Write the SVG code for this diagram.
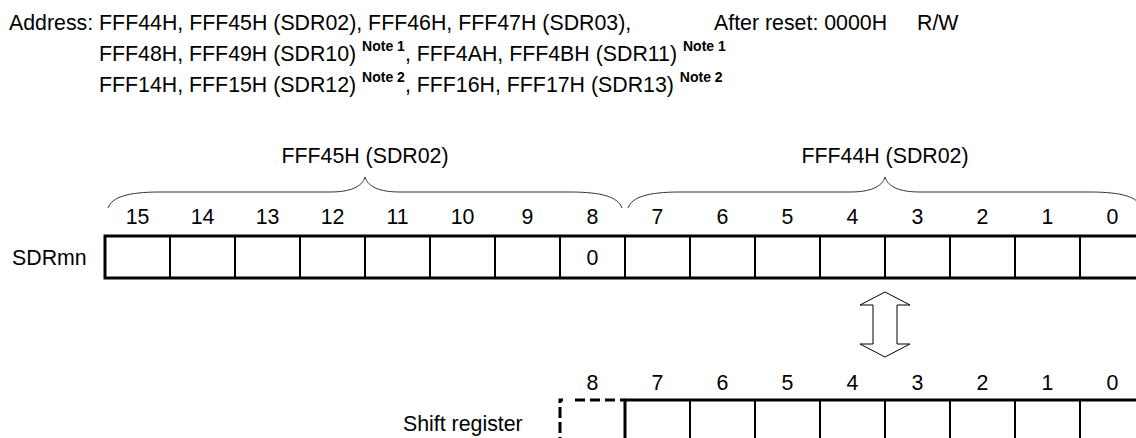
<svg xmlns="http://www.w3.org/2000/svg" width="1136" height="438" viewBox="0 0 1136 438">
<style>
text{font-family:"Liberation Sans",Arial,sans-serif;font-size:21.33px;fill:#000}
.c{text-anchor:middle}
.note{font-size:14px;font-weight:bold}
.brace{fill:none;stroke:#333;stroke-width:1}
.outer{fill:#fff;stroke:#000;stroke-width:3}
.div{stroke:#000;stroke-width:2}
.thick{fill:none;stroke:#000;stroke-width:3}
</style>
<g id="header">
<text x="9" y="30">Address: FFF44H, FFF45H (SDR02), FFF46H, FFF47H (SDR03),</text>
<text x="99" y="61">FFF48H, FFF49H (SDR10) <tspan class="note" dy="-10">Note 1</tspan><tspan dy="10">, FFF4AH, FFF4BH (SDR11) </tspan><tspan class="note" dy="-10">Note 1</tspan></text>
<text x="99" y="92">FFF14H, FFF15H (SDR12) <tspan class="note" dy="-10">Note 2</tspan><tspan dy="10">, FFF16H, FFF17H (SDR13) </tspan><tspan class="note" dy="-10">Note 2</tspan></text>
<text x="714" y="30">After reset: 0000H</text>
<text x="917" y="30">R/W</text>
</g>
<g id="braces">
<text class="c" x="365" y="163">FFF45H (SDR02)</text>
<text class="c" x="885" y="163">FFF44H (SDR02)</text>
<path class="brace" d="M108,208 C112,197 128,192 160,192 L330,192 C350,192 362,187 365,177 C368,187 380,192 400,192 L570,192 C602,192 618,197 622,208"/>
<path class="brace" d="M628,208 C632,197 648,192 680,192 L850,192 C870,192 882,187 885,177 C888,187 900,192 920,192 L1090,192 C1122,192 1138,197 1142,208"/>
</g>
<g id="sdrmn">
<text x="12" y="265">SDRmn</text>
<g class="c">
<text x="137.5" y="224">15</text><text x="202.5" y="224">14</text><text x="267.5" y="224">13</text><text x="332.5" y="224">12</text>
<text x="397.5" y="224">11</text><text x="462.5" y="224">10</text><text x="527.5" y="224">9</text><text x="592.5" y="224">8</text>
<text x="657.5" y="224">7</text><text x="722.5" y="224">6</text><text x="787.5" y="224">5</text><text x="852.5" y="224">4</text>
<text x="917.5" y="224">3</text><text x="982.5" y="224">2</text><text x="1047.5" y="224">1</text><text x="1112.5" y="224">0</text>
</g>
<rect class="outer" x="105" y="236" width="1040" height="42"/>
<path class="div" d="M170,236V278M235,236V278M300,236V278M365,236V278M430,236V278M495,236V278M560,236V278M625,236V278M690,236V278M755,236V278M820,236V278M885,236V278M950,236V278M1015,236V278M1080,236V278"/>
<text class="c" x="592.5" y="265">0</text>
</g>
<g id="connectors">
<path d="M885,292 L910,305 L897,305 L897,344 L910,344 L885,357 L860,344 L873,344 L873,305 L860,305 Z" fill="#fff" stroke="#000" stroke-width="1"/>
</g>
<g id="shift-register">
<text x="403" y="431">Shift register</text>
<g class="c">
<text x="592.5" y="390">8</text><text x="657.5" y="390">7</text><text x="722.5" y="390">6</text><text x="787.5" y="390">5</text>
<text x="852.5" y="390">4</text><text x="917.5" y="390">3</text><text x="982.5" y="390">2</text><text x="1047.5" y="390">1</text><text x="1112.5" y="390">0</text>
</g>
<path class="thick" d="M560,403 V400 H563"/>
<path class="thick" d="M560,407 V445" stroke-dasharray="11 4"/>
<path class="thick" d="M575,400 H625" stroke-dasharray="10 5"/>
<path class="thick" d="M625,445 V400 H1145"/>
<path class="div" d="M690,400V445M755,400V445M820,400V445M885,400V445M950,400V445M1015,400V445M1080,400V445"/>
</g>
</svg>
